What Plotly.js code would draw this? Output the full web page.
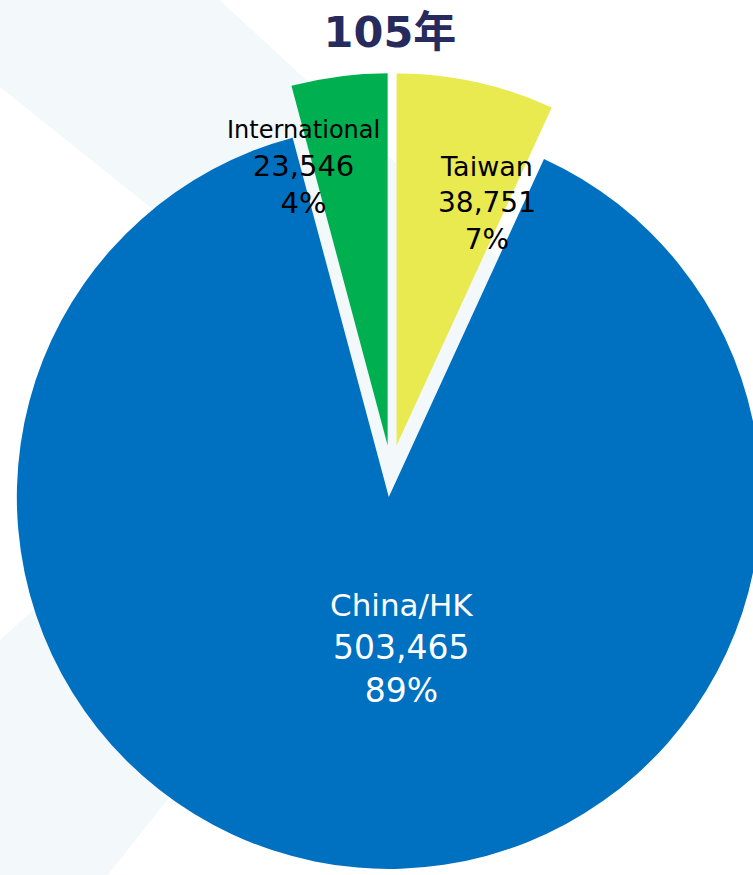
<!DOCTYPE html>
<html>
<head>
<meta charset="utf-8">
<script src="https://cdn.plot.ly/plotly-3.0.1.min.js"></script>
<style>
  html, body { margin: 0; padding: 0; width: 753px; height: 875px; overflow: hidden; background: #ffffff; }
  #chart { position: absolute; left: -7px; top: 0px; width: 796px; height: 875px; }
</style>
</head>
<body>
<div id="chart"></div>
<script>
// ---- data ----
const titleText = '105年';
const categories = ['Taiwan', 'China/HK', 'International'];
const values = [38751, 503465, 23546];
const sliceColors = ['#e8ea50', '#0070c0', '#00b050'];

// ---- layout helpers (page pixels -> paper coords) ----
const W = 796, H = 875, MT = 73, MB = 6, OFFX = -7;
const PW = W, PH = H - MT - MB;
const px = x => (x - OFFX) / PW;
const py = y => 1 - (y - MT) / PH;

const total = values.reduce((a, b) => a + b, 0);
const fmt = v => v.toLocaleString('en-US');
const pct = v => Math.round(v / total * 100) + '%';

// background chevron (decorative)
const bgPts = [[-20,-20],[198,-20],[555,310],[92,895],[-20,895],[-20,658],[325,347],[-20,71]];
const bgPath = 'M' + bgPts.map(p => px(p[0]).toFixed(5) + ',' + py(p[1]).toFixed(5)).join(' L') + ' Z';

const labelFont = '"DejaVu Sans", Lato, sans-serif';
const labelPos = {
  'Taiwan':        {x: 487, y: 203, color: '#000000', s1: 27, s2: 28},
  'China/HK':      {x: 401, y: 648, color: '#ffffff', s1: 31, s2: 33},
  'International': {x: 303, y: 168, color: '#000000', s1: 24, s2: 29}
};

const annotations = categories.map((c, i) => {
  const p = labelPos[c];
  return {
    xref: 'paper', yref: 'paper', x: px(p.x), y: py(p.y),
    xanchor: 'center', yanchor: 'middle', showarrow: false, align: 'center',
    text: '<span style="font-size:' + p.s1 + 'px">' + c + '</span><br>' + fmt(values[i]) + '<br>' + pct(values[i]),
    font: {family: labelFont, size: p.s2, color: p.color}
  };
});

const trace = {
  type: 'pie',
  labels: categories,
  values: values,
  sort: false,
  direction: 'clockwise',
  rotation: 0,
  pull: [0.07, 0.07, 0.07],
  marker: {colors: sliceColors, line: {width: 0}},
  textinfo: 'none',
  hoverinfo: 'none'
};

const layout = {
  width: W, height: H,
  margin: {l: 0, r: 0, t: MT, b: MB},
  paper_bgcolor: 'rgba(0,0,0,0)',
  plot_bgcolor: 'rgba(0,0,0,0)',
  showlegend: false,
  title: {
    text: titleText,
    xref: 'container', yref: 'container', x: (390 - OFFX) / W, y: 1 - 32 / H,
    xanchor: 'center', yanchor: 'middle',
    font: {family: '"DejaVu Sans", "Noto Sans CJK TC", sans-serif', size: 43, weight: 700, color: '#262a5c'}
  },
  shapes: [{
    type: 'path', xref: 'paper', yref: 'paper', path: bgPath,
    fillcolor: '#f3f8fb', line: {width: 0}, layer: 'below'
  }],
  annotations: annotations
};

Plotly.newPlot('chart', [trace], layout, {displayModeBar: false, staticPlot: true});
</script>
</body>
</html>
